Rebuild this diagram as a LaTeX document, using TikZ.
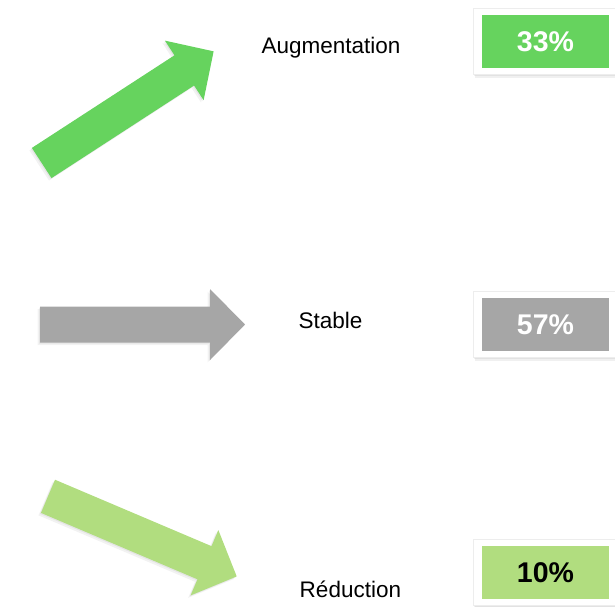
\documentclass[tikz,border=0pt]{standalone}
\usepackage{fontspec}
\setmainfont{Liberation Sans}
\usepackage{tikz}
\usetikzlibrary{shadows}
\definecolor{upgreen}{RGB}{102,211,94}
\definecolor{flatgray}{RGB}{166,166,166}
\definecolor{downgreen}{RGB}{177,221,127}
\tikzset{trend/.style={
  drop shadow={shadow xshift=-1pt,shadow yshift=-1pt,opacity=0.12},
  drop shadow={shadow xshift=-2.5pt,shadow yshift=-2.5pt,opacity=0.1}
}}
\tikzset{
  pctframe/.style={
    fill=white,
    draw=black!7,
    line width=0.6pt,
    inner sep=0,
    minimum width=146pt,
    minimum height=66pt,
    drop shadow={shadow xshift=0pt,shadow yshift=-1.5pt,opacity=0.12},
    drop shadow={shadow xshift=1pt,shadow yshift=-3.5pt,opacity=0.12}
  }
}
\tikzset{
  pctbox/.style={
    inner sep=0,
    minimum width=127.6pt,
    minimum height=52.7pt,
    font=\fontsize{28.5}{34}\selectfont\bfseries
  }
}
\tikzset{trendtext/.style={anchor=base,font=\fontsize{22.5}{27}\selectfont}}

\begin{document}
\begin{tikzpicture}[x=1pt,y=-1pt]

\useasboundingbox (0,0) rectangle (615,606);

% the three trend arrows
\fill[upgreen,trend,shift={(41.7,163)},rotate=33] (0,-18) -- (170,-18) -- (170,-35.5) -- (205,0) -- (170,35.5) -- (170,18) -- (0,18) -- cycle;
\fill[flatgray,trend,shift={(40,324.5)}] (0,-18) -- (170,-18) -- (170,-35.5) -- (205,0) -- (170,35.5) -- (170,18) -- (0,18) -- cycle;
\fill[downgreen,trend,shift={(48,496.3)},rotate=-23] (0,-18) -- (170,-18) -- (170,-35.5) -- (205,0) -- (170,35.5) -- (170,18) -- (0,18) -- cycle;

\node[trendtext] (up) at (331,53) {Augmentation};
\node[trendtext] (flat) at (330.5,328.3) {Stable};
\node[trendtext] (down) at (350.4,597.3) {Réduction};

\node[pctframe] (upframe) at (546.5,41.2) {};
\node[pctframe] (flatframe) at (546.5,324.5) {};
\node[pctframe] (downframe) at (546.5,572.5) {};

\node[pctbox,fill=upgreen,text=white] (upval) at (545.5,41.35) {33\%};
\node[pctbox,fill=flatgray,text=white] (flatval) at (545.5,324.5) {57\%};
\node[pctbox,fill=downgreen,text=black] (downval) at (545.5,572.5) {10\%};

\end{tikzpicture}
\end{document}
